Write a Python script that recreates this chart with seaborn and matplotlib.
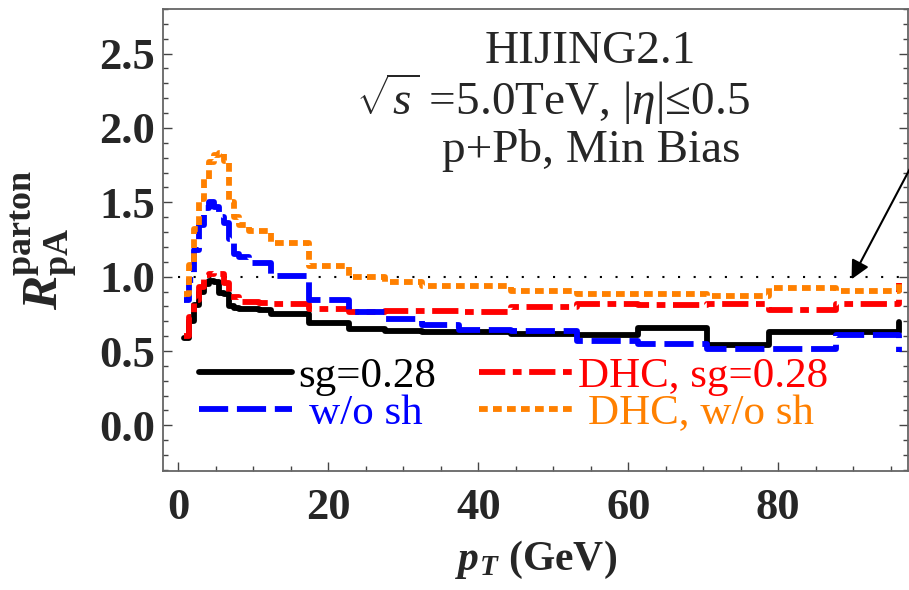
import numpy as np
import pandas as pd
import matplotlib
matplotlib.use("Agg")
import matplotlib.pyplot as plt
import seaborn as sns

# left bin edges (GeV); last entry closes the final bin
pt_edges = [0.75, 1.4, 2.1, 2.75, 3.4, 4.1, 4.75, 5.4, 6.1, 6.75, 7.4, 8.1, 9.4, 10.8,
            12.4, 17.4, 22.7, 27.6, 32.5, 37.4, 44.3, 53.1, 61.3, 70.5, 78.7, 87.7, 96.1]

r_sg = [0.59, 0.70, 0.81, 0.90, 0.95, 0.97, 0.965, 0.89, 0.885, 0.80, 0.79, 0.785, 0.78, 0.775,
        0.75, 0.686, 0.647, 0.632, 0.629, 0.627, 0.615, 0.61, 0.655, 0.542, 0.63, 0.628, 0.697]
r_dhc_sg = [0.60, 0.73, 0.84, 0.93, 1.01, 1.02, 1.025, 1.02, 0.955, 0.865, 0.86, 0.83, 0.827, 0.825,
            0.815, 0.78, 0.762, 0.767, 0.767, 0.765, 0.798, 0.816, 0.81, 0.816, 0.775, 0.814, 0.96]
r_wosh = [0.84, 0.98, 1.18, 1.35, 1.46, 1.50, 1.47, 1.40, 1.36, 1.25, 1.15, 1.13, 1.09, 1.09,
          1.004, 0.843, 0.764, 0.713, 0.674, 0.641, 0.632, 0.567, 0.548, 0.515, 0.515, 0.607, 0.495]
r_dhc_wosh = [0.88, 1.08, 1.32, 1.52, 1.66, 1.77, 1.82, 1.83, 1.78, 1.50, 1.40, 1.35, 1.31, 1.31,
              1.224, 1.075, 1.00, 0.966, 0.937, 0.937, 0.903, 0.881, 0.881, 0.867, 0.925, 0.903, 0.965]

labels = ["sg=0.28", "DHC, sg=0.28", "w/o sh", "DHC, w/o sh"]
x_ticks = [0, 20, 40, 60, 80]
y_ticks = [0.0, 0.5, 1.0, 1.5, 2.0, 2.5]

sns.set_style("ticks")
plt.rcParams["font.family"] = ["Liberation Serif", "DejaVu Serif"]
plt.rcParams["mathtext.fontset"] = "custom"
plt.rcParams["mathtext.rm"] = "Liberation Serif"
plt.rcParams["mathtext.it"] = "Liberation Serif:italic"
plt.rcParams["mathtext.bf"] = "Liberation Serif:bold"
plt.rcParams["mathtext.bfit"] = "Liberation Serif:bold:italic"

fig = plt.figure(figsize=(9.09, 5.90), dpi=100)
ax = fig.add_axes([163.3 / 909, 1 - 471 / 590, (908 - 163.3) / 909, (471 - 9) / 590])

df = pd.DataFrame({"pt": pt_edges, "sg": r_sg, "dhc_sg": r_dhc_sg,
                   "wosh": r_wosh, "dhc_wosh": r_dhc_wosh})

lw = 4.2
sns.lineplot(data=df, x="pt", y="sg", ax=ax, color="black", lw=lw,
             drawstyle="steps-post", label=labels[0])
sns.lineplot(data=df, x="pt", y="dhc_sg", ax=ax, color="#ff0000", lw=lw,
             linestyle=(0, (4.5, 1.3, 1.5, 1.3)), drawstyle="steps-post", label=labels[1])
sns.lineplot(data=df, x="pt", y="wosh", ax=ax, color="#0000ff", lw=lw,
             linestyle=(0, (5, 1.5)), drawstyle="steps-post", label=labels[2])
sns.lineplot(data=df, x="pt", y="dhc_wosh", ax=ax, color="#ff8000", lw=lw,
             linestyle=(0, (1.5, 0.9)), drawstyle="steps-post", label=labels[3])

# reference line at R = 1
ax.hlines(1.0, 0, 100, colors="black", lw=1.5, linestyles=(0, (1, 6.5)), zorder=1)

ax.set_xlim(-2.0, 97.3)
ax.set_ylim(-0.307, 2.80)
ax.set_xticks(x_ticks)
ax.set_yticks(y_ticks)
ax.set_xticks(np.arange(0, 100, 5), minor=True)
ax.set_yticks(np.arange(-0.3, 2.81, 0.1), minor=True)
ax.tick_params(which="both", direction="in", right=True, top=False, color="#444444", width=1)
ax.tick_params(which="major", length=6.5)
ax.tick_params(which="minor", length=3.6)
ax.tick_params(axis="x", which="major", labelsize=32, pad=12)
ax.tick_params(axis="y", which="major", labelsize=32, pad=6)
for t in ax.get_xticklabels() + ax.get_yticklabels():
    t.set_fontweight("bold")
for s in ax.spines.values():
    s.set_color("#666666")
    s.set_linewidth(1.3)

ax.set_xlabel(r"$\mathbfit{p}_{\mathbfit{T}}$ (GeV)", fontsize=30, fontweight="bold", labelpad=8)
ax.set_ylabel(r"$\mathbfit{R}_{\mathbf{pA}}^{\mathbf{parton}}$", fontsize=37, labelpad=14)

ax.text(54.9, 2.44, "HIJING2.1", fontsize=34, ha="center", va="baseline")
ax.text(50.0, 2.09, r"$\sqrt{s}$ =5.0TeV, |$\eta$|≤0.5", fontsize=34, ha="center", va="baseline")
ax.text(55.1, 1.77, "p+Pb, Min Bias", fontsize=34, ha="center", va="baseline")

ax.annotate("", xy=(89.6, 0.966), xytext=(99.8, 1.94), annotation_clip=False,
            arrowprops=dict(arrowstyle="-|>", color="black", lw=1.5, mutation_scale=28))

# legend rows: black / red on top, blue / orange below
handles, lbls = ax.get_legend_handles_labels()
order = [0, 2, 1, 3]
leg = ax.legend([handles[i] for i in order], [lbls[i] for i in order], ncol=2,
                loc="center left", bbox_to_anchor=(199 / 909, 1 - 395 / 590),
                bbox_transform=fig.transFigure, frameon=False, fontsize=31,
                handlelength=2.15, handletextpad=0.15, columnspacing=1.0,
                labelspacing=-0.05, borderpad=0, borderaxespad=0, labelcolor="linecolor")
# second-row labels sit centred under the first-row ones
leg_texts = leg.get_texts()
leg_texts[1].set_position((11, 0))
leg_texts[3].set_position((10, 0))

fig.savefig("out.png", dpi=100)
